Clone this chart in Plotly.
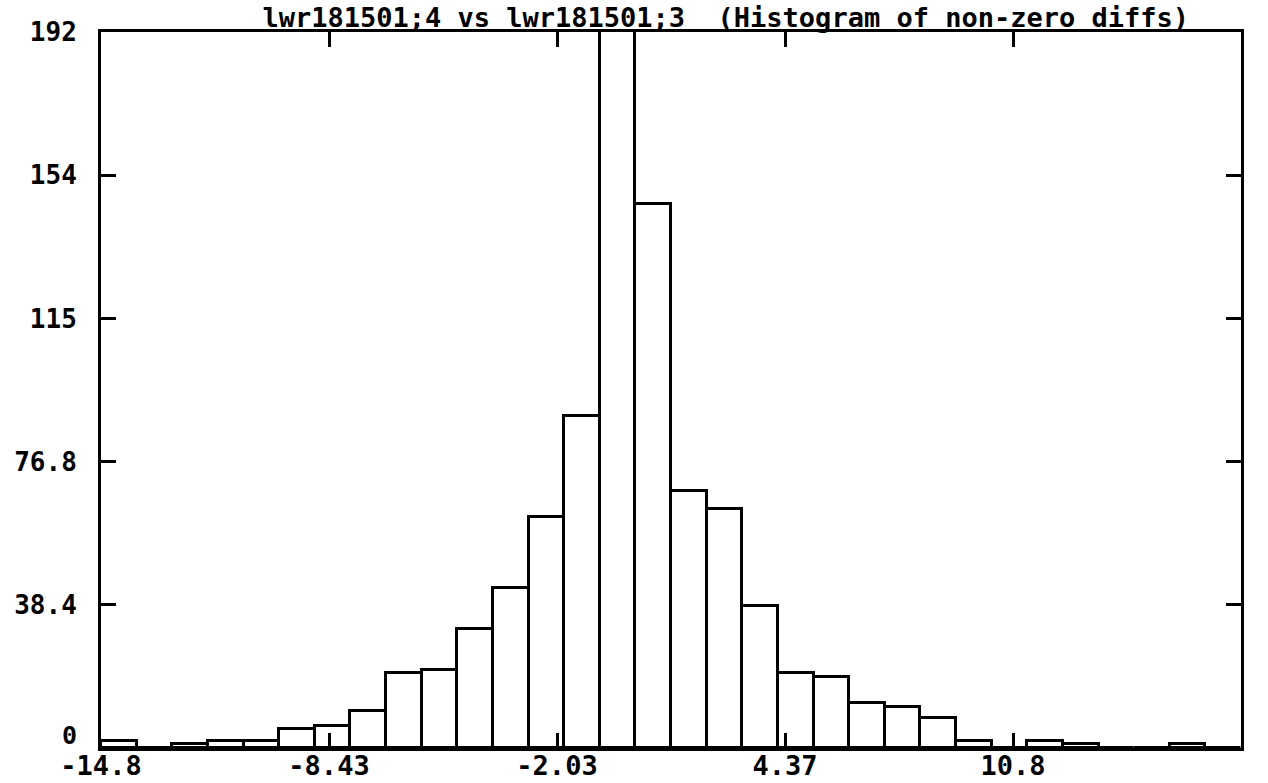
import plotly.graph_objects as go

# ---- data ----
x_min = -14.83
x_max = 17.17
bin_width = 1.0
counts = [2, 0, 1, 2, 2, 5, 6, 10, 20, 21, 32, 43, 62, 89, 240, 146,
          69, 64, 38, 20, 19, 12, 11, 8, 2, 0, 2, 1, 0, 0, 1, 0]
bin_centers = [x_min + bin_width * (i + 0.5) for i in range(len(counts))]

x_tickvals = [-14.83, -8.43, -2.03, 4.37, 10.77, 17.17]
x_ticktext = ["-14.8", "-8.43", "-2.03", "4.37", "10.8", "17.1"]
y_tickvals = [0, 38.4, 76.8, 115.2, 153.6, 192]
y_ticktext = ["0", "38.4", "76.8", "115", "154", "192"]
title_text = "lwr181501;4 vs lwr181501;3\u00a0\u00a0(Histogram of non-zero diffs)"

FONT = "DejaVu Sans Mono"

fig = go.Figure(
    go.Bar(
        x=bin_centers,
        y=counts,
        width=bin_width,
        marker=dict(color="white", line=dict(color="black", width=3)),
        hoverinfo="x+y",
    )
)

axis_common = dict(
    showline=True,
    linecolor="black",
    linewidth=3,
    mirror="ticks",
    ticks="inside",
    ticklen=15,
    tickwidth=2.5,
    tickcolor="black",
    showgrid=False,
    zeroline=False,
    automargin=False,
)

fig.update_xaxes(
    range=[x_min, x_max],
    tickmode="array",
    tickvals=x_tickvals,
    ticktext=x_ticktext,
    ticklabelstandoff=-8,
    tickfont=dict(family=FONT, size=27, color="black", weight="bold"),
    **axis_common,
)

# the bottom "0" label sits a little above the frame corner in the reference,
# so it is drawn as an annotation instead of an axis tick label
y_labels_on_axis = [t if v != 0 else "" for v, t in zip(y_tickvals, y_ticktext)]
fig.update_yaxes(
    range=[0, 192],
    tickmode="array",
    tickvals=y_tickvals,
    ticktext=y_labels_on_axis,
    ticklabelstandoff=16,
    tickfont=dict(family=FONT, size=26, color="black", weight="bold"),
    **axis_common,
)

fig.add_annotation(
    text=y_ticktext[0],
    xref="paper",
    x=0,
    xanchor="right",
    xshift=-22,
    yref="y",
    y=y_tickvals[0],
    yanchor="middle",
    yshift=13,
    showarrow=False,
    font=dict(family=FONT, size=25, color="black", weight="bold"),
)

fig.update_layout(
    width=1268,
    height=783,
    margin=dict(l=101, r=27, t=32, b=35),
    paper_bgcolor="white",
    plot_bgcolor="white",
    showlegend=False,
    bargap=0,
    title=dict(
        text=title_text,
        font=dict(family=FONT, size=27, color="black", weight="bold"),
        xref="paper",
        x=0.548,
        xanchor="center",
        yref="container",
        y=1 - 18 / 783,
        yanchor="middle",
    ),
)

fig.write_html("out.html")
